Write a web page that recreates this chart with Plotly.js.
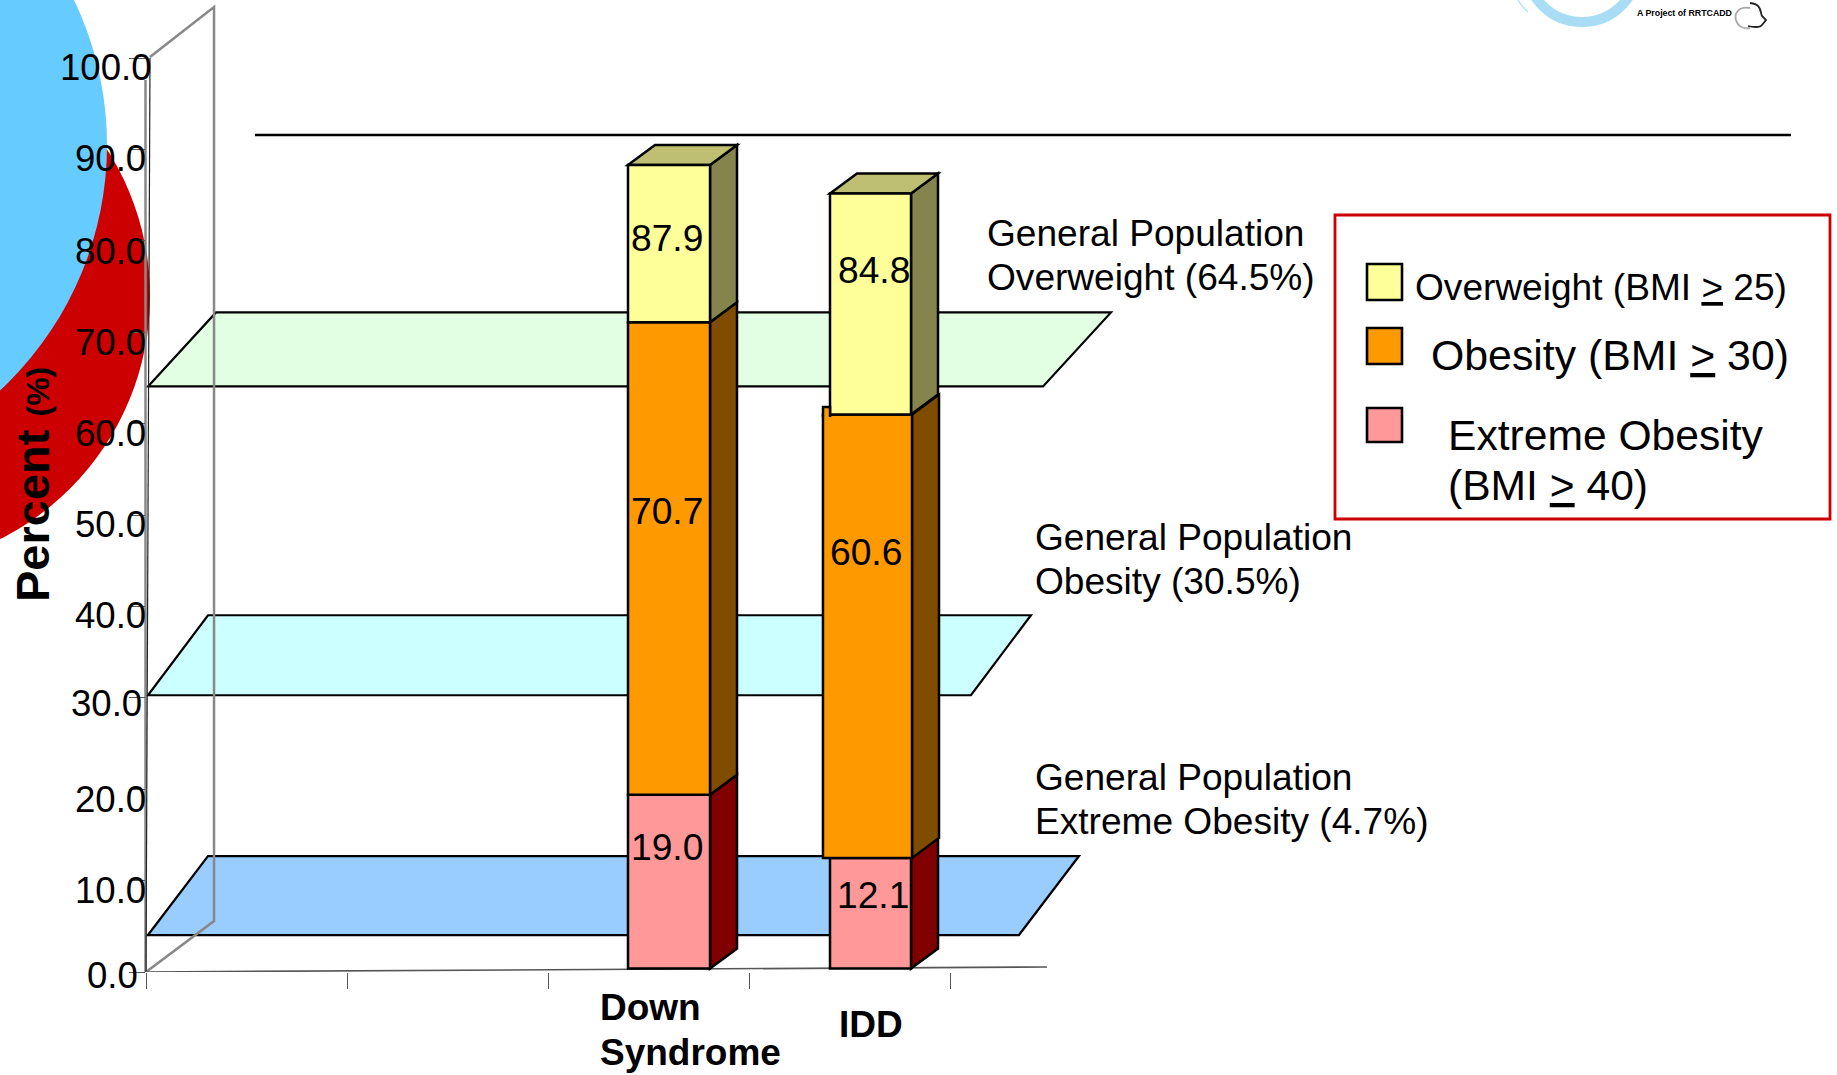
<!DOCTYPE html>
<html>
<head>
<meta charset="utf-8">
<script src="https://cdn.plot.ly/plotly-3.0.1.min.js"></script>
<style>html,body{margin:0;padding:0;background:#fff}#chart{width:1837px;height:1075px}</style>
</head>
<body>
<div id="chart"></div>
<script>
// Cumulative prevalence by group, as printed on the bars.
const categories = ['Down Syndrome', 'IDD'];
const extremeObesity = [19.0, 12.1];
const obesity = [70.7, 60.6];
const overweight = [87.9, 84.8];

// General-population reference levels.
const populationLevels = [64.5, 30.5, 4.7];
const populationNames = ['Overweight', 'Obesity', 'Extreme Obesity'];

const yTickValues = [0, 10, 20, 30, 40, 50, 60, 70, 80, 90, 100];

// Slots of the category axis: two empty ones lead up to the two groups.
const axisSlots = [' ', '  ', ...categories];

// Page geometry.
const W = 1837, H = 1075;
const plotL = 146, plotR = 1047, plotT = 0, plotB = 972;
const slotPx = 201, unitPx = 9.14, barFloorPx = 3.5;
const X = p => (p - plotL) / slotPx - 0.5;
const Y = p => (plotB - p) / unitPx;
const PX = p => (p - plotL) / (plotR - plotL);
const PY = p => (plotB - p) / (plotB - plotT);
const dX = p => p / slotPx;
const dY = p => p / unitPx;
const poly = pts => 'M' + pts.map(q => q[0].toFixed(4) + ',' + q[1].toFixed(4)).join('L') + 'Z';
const open = pts => 'M' + pts.map(q => q[0].toFixed(4) + ',' + q[1].toFixed(4)).join('L');

const INK = '#000000', WALL = '#888888', NONE = 'rgba(0,0,0,0)';
const FONT = '"Liberation Sans", Arial, sans-serif';

const faceColors = {
  extreme: {front: '#FF9999', side: '#800000'},
  obese:   {front: '#FF9900', side: '#804C00'},
  over:    {front: '#FFFF99', side: '#84844C', top: '#BFBF73'}
};

// Front-face extents of each bar, per group, in slots.
const catIndex = categories.map(c => axisSlots.indexOf(c));
const narrow = {offset: [-0.102, -0.097], width: [0.408, 0.403]};
const wide = {offset: [-0.102, -0.132], width: [0.408, 0.443]};
const depthX = dX(27), depthY = dY(20);

function barTrace(name, base, top, color, extent) {
  return {
    type: 'bar', name, x: categories, y: top.map((v, i) => v - base[i]), base,
    xaxis: 'x', yaxis: 'y2',
    offset: extent.offset, width: extent.width,
    marker: {color, line: {color: INK, width: 2.5}},
    cliponaxis: false, hoverinfo: 'skip'
  };
}

const zeroBase = categories.map(() => 0);
const traces = [
  barTrace('Extreme Obesity', zeroBase, extremeObesity, faceColors.extreme.front, narrow),
  barTrace('Obesity', extremeObesity, obesity, faceColors.obese.front, wide),
  barTrace('Overweight', obesity, overweight, faceColors.over.front, narrow)
];

const shapes = [];
// Horizontal extents on the page, vertical positions on the value axis.
function pageSolid(path, fill, line, width) {
  shapes.push({type: 'path', path, xref: 'paper', yref: 'y', layer: 'below',
               fillcolor: fill, line: {color: line, width}});
}
function pageStroke(x0, y0, x1, y1, color, width) {
  shapes.push({type: 'line', x0: PX(x0), x1: PX(x1), y0, y1, xref: 'paper', yref: 'y', layer: 'below',
               line: {color, width}});
}
// Bar depth faces live on the category axis and the bar value axis.
function barFace(path, fill) {
  shapes.push({type: 'path', path, xref: 'x', yref: 'y2', layer: 'below',
               fillcolor: fill, line: {color: INK, width: 2.5}});
}

// Decorative discs behind the axis.
function disc(cx, cy, r, color) {
  shapes.push({type: 'circle', xref: 'paper', yref: 'paper', layer: 'below',
    x0: PX(cx - r), x1: PX(cx + r), y0: PY(cy + r), y1: PY(cy - r),
    fillcolor: color, line: {width: 0}});
}
disc(-122, 296, 272, '#CC0000');
disc(-228, 145, 335, '#66CCFF');

// General-population plates, lying in the depth of the chart.
const plateColors = ['#E3FFE3', '#CCFFFF', '#99CCFF'];
const plateDrop = [4, 2, 6];
const plateLeft = [148, 148, 148];
const plateRight = [1043, 971, 1019];
const plateDepthX = [68, 60, 60];
const plateDepthY = [74, 80, 79];
populationLevels.forEach((lvl, i) => {
  const y = lvl - dY(plateDrop[i]);
  const ddy = dY(plateDepthY[i]);
  const l = plateLeft[i], r = plateRight[i], d = plateDepthX[i];
  pageSolid(poly([[PX(l), y], [PX(l + d), y + ddy], [PX(r + d), y + ddy], [PX(r), y]]), plateColors[i], INK, 2.2);
});

// Back wall of the box.
pageSolid(open([[PX(plotL), 0], [PX(214), Y(921)], [PX(214), Y(7)], [PX(150), Y(57)]]), NONE, WALL, 2.5);

// Front y line, floor line and the rule across the top.
pageStroke(145.5, 0, 145.5, Y(80), WALL, 2.5);
pageStroke(146, 0, 150, Y(58), '#222222', 1.2);
pageStroke(146, 0, 1047, Y(967), '#555555', 1.6);
pageStroke(255, Y(135), 1791, Y(135), INK, 2.6);

// Depth faces of the bars.
categories.forEach((c, i) => {
  const ci = catIndex[i];
  const segments = [
    [0, extremeObesity[i], faceColors.extreme.side, narrow],
    [extremeObesity[i], obesity[i], faceColors.obese.side, wide],
    [obesity[i], overweight[i], faceColors.over.side, narrow]
  ];
  segments.forEach(([lo, hi, col, ext]) => {
    const xr = ci + ext.offset[i] + ext.width[i];
    barFace(poly([[xr, lo], [xr + depthX, lo + depthY], [xr + depthX, hi + depthY], [xr, hi]]), col);
  });
  const xl = ci + narrow.offset[i], xr = xl + narrow.width[i], t = overweight[i];
  barFace(poly([[xl, t], [xl + depthX, t + depthY], [xr + depthX, t + depthY], [xr, t]]), faceColors.over.top);
});

// Legend box, swatches and other page furniture.
const frame = (x0, y0, x1, y1, fill, line, width) => shapes.push({
  type: 'rect', xref: 'paper', yref: 'paper', layer: 'above',
  x0: PX(x0), x1: PX(x1), y0: PY(y1), y1: PY(y0),
  fillcolor: fill, line: {color: line, width}
});
frame(1335, 215, 1830, 519, NONE, '#CC0000', 2.8);
frame(1367, 264, 1402, 300, faceColors.over.front, INK, 2.6);
frame(1367, 328, 1402, 364, faceColors.obese.front, INK, 2.6);
frame(1367, 408, 1402, 442, faceColors.extreme.front, INK, 2.6);

// Small step where the IDD obesity block shows past the overweight block.
const pagePath = (pts, fill, line, width) => shapes.push({
  type: 'path', xref: 'paper', yref: 'paper', layer: 'above',
  path: open(pts.map(q => [PX(q[0]), PY(q[1])])), fillcolor: fill, line: {color: line, width}
});
pagePath([[823, 417], [823, 407], [830, 407], [830, 417]], faceColors.obese.front, INK, 2.5);

// Emblem in the top corner: a ring cut by the page edge and a small head outline.
shapes.push({type: 'circle', xref: 'paper', yref: 'paper', layer: 'above',
  x0: PX(1526), x1: PX(1638), y0: PY(22), y1: PY(-90),
  fillcolor: NONE, line: {color: '#A8DDF5', width: 10}});
pagePath([[1518, 0], [1522, 6], [1528, 12]], NONE, '#BFE6F7', 1.6);
shapes.push({type: 'path', xref: 'paper', yref: 'paper', layer: 'above', fillcolor: NONE,
  line: {color: '#222222', width: 1.8},
  path: `M${PX(1750)},${PY(3)} C${PX(1762)},${PY(4)} ${PX(1760)},${PY(12)} ${PX(1762)},${PY(16)} L${PX(1766)},${PY(20)} L${PX(1762)},${PY(25)} C${PX(1760)},${PY(28)} ${PX(1752)},${PY(27)} ${PX(1748)},${PY(26)}`});
shapes.push({type: 'path', xref: 'paper', yref: 'paper', layer: 'above', fillcolor: NONE,
  line: {color: '#AAAAAA', width: 1.8},
  path: `M${PX(1750)},${PY(8)} C${PX(1738)},${PY(6)} ${PX(1734)},${PY(14)} ${PX(1736)},${PY(20)} C${PX(1738)},${PY(27)} ${PX(1744)},${PY(29)} ${PX(1750)},${PY(28)}`});

// All text is placed by its left, right or centre point on the page.
const notes = [];
function note(text, px, py, size, anchor, extra) {
  notes.push(Object.assign({
    text, showarrow: false, xref: 'paper', yref: 'paper',
    x: PX(px), y: PY(py),
    xanchor: anchor || 'left', yanchor: 'middle', borderpad: 0,
    font: {family: FONT, size, color: INK}
  }, extra || {}));
}

// y tick labels sit just under their ticks.
const yLabelRight = [139, 147, 147, 143, 147, 147, 147, 147, 147, 147, 153];
const yLabelDrop = [3, 10, 10, 6, 9, 9, 10, 10, 11, 9, 9];
yTickValues.forEach((v, i) => {
  note(v.toFixed(1), yLabelRight[i], plotB - v * unitPx + yLabelDrop[i], 36.6, 'right');
});

// Value labels printed on the bars.
const onBarY = [[238, 270], [511, 552], [847, 895]];
const onBarX = [[667, 874], [667, 866], [667, 873]];
[overweight, obesity, extremeObesity].forEach((arr, s) => {
  arr.forEach((v, i) => note(v.toFixed(1), onBarX[s][i], onBarY[s][i], 37.2, 'center'));
});

// Group labels below the floor.
const bold = s => '<b>' + s + '</b>';
categories[0].split(' ').forEach((w, k) => note(bold(w), 599, 1007 + k * 45, 37));
note(bold(categories[1]), 871, 1024, 37, 'center');

// y-axis title.
note('<b>Percent <span style="font-size:32px">(%)</span></b>', 32, 485, 47, 'center', {textangle: -90});

// Notes beside the plates.
const plateNoteX = [986, 1034, 1034];
const plateNoteY = [233, 537, 777];
populationLevels.forEach((lvl, i) => {
  note('General Population', plateNoteX[i], plateNoteY[i], 37.1);
  note(populationNames[i] + ' (' + lvl.toFixed(1) + '%)', plateNoteX[i], plateNoteY[i] + 44, 37.1);
});

// Legend entries.
const gte = '<span style="text-decoration:underline">&gt;</span>';
note('Overweight (BMI ' + gte + ' 25)', 1414, 287, 37.1);
note('Obesity (BMI ' + gte + ' 30)', 1430, 355, 42.8);
note('Extreme Obesity', 1447, 435, 42.6);
note('(BMI ' + gte + ' 40)', 1447, 485, 42.6);

// Emblem caption.
note('<b>A Project of RRTCADD</b>', 1636, 13, 8.8);

const layout = {
  width: W, height: H,
  margin: {l: plotL, r: W - plotR, t: plotT, b: H - plotB, pad: 0},
  paper_bgcolor: '#FFFFFF', plot_bgcolor: NONE,
  showlegend: false, barmode: 'overlay',
  font: {family: FONT, color: INK},
  xaxis: {
    type: 'category', categoryorder: 'array', categoryarray: axisSlots,
    range: [-0.5, X(plotR)], tickson: 'boundaries',
    ticks: 'outside', ticklen: 16, tickwidth: 1, tickcolor: '#555555',
    showticklabels: false, showline: false, showgrid: false, zeroline: false
  },
  yaxis: {
    range: [0, (plotB - plotT) / unitPx], tickmode: 'array', tickvals: yTickValues,
    ticks: 'outside', ticklen: 16, tickwidth: 1, tickcolor: '#555555',
    showticklabels: false, showline: false, showgrid: false, zeroline: false
  },
  yaxis2: {
    overlaying: 'y', side: 'left', visible: false,
    range: [-barFloorPx / unitPx, (plotB - plotT - barFloorPx) / unitPx],
    showgrid: false, zeroline: false
  },
  shapes, annotations: notes
};

Plotly.newPlot('chart', traces, layout, {displayModeBar: false, responsive: false});
</script>
</body>
</html>
